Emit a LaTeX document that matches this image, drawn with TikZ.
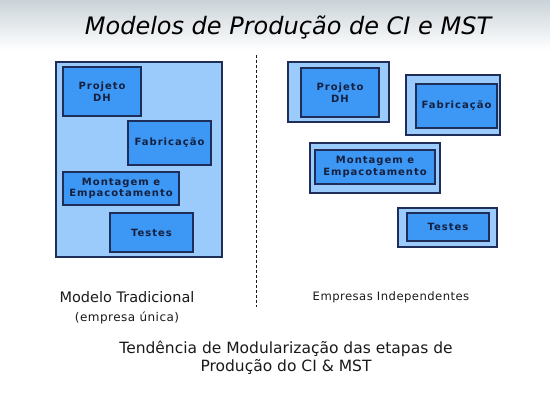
\documentclass[tikz,border=0pt]{standalone}
\usepackage{fontspec}
\setmainfont{DejaVu Sans}
\newfontfamily\boxfont[LetterSpace=10]{DejaVu Sans}
\newfontfamily\lblfont[LetterSpace=4]{DejaVu Sans}
\definecolor{outerblue}{HTML}{9ACBFA}
\definecolor{innerblue}{HTML}{3C97F5}
\definecolor{navy}{HTML}{1E2E58}
\definecolor{txt}{HTML}{1A1A1A}
\definecolor{headtop}{HTML}{CBD3D9}
\tikzset{
  outerbox/.style={draw=navy, fill=outerblue, line width=1.1pt, inner sep=0pt},
  innerbox/.style={draw=navy, fill=innerblue, line width=1.1pt, inner sep=0pt, align=center,
    font=\boxfont\bfseries\fontsize{10}{11.5}\selectfont, text=navy!70!black},
  label/.style={text=txt, inner sep=0pt, align=center},
}
\begin{document}
\begin{tikzpicture}[x=1pt,y=-1pt]
\useasboundingbox (0,0) rectangle (550,392);
\fill[white] (0,0) rectangle (550,392);
\shade[top color=headtop, bottom color=white] (0,0) rectangle (550,50);
\node[label, font=\itshape\fontsize{24}{28}\selectfont, text=black] (title) at (288,27) {Modelos de Produção de CI e MST};

% left: single company
\node[outerbox, minimum width=166pt, minimum height=195pt] (outerL) at (139,159.5) {};
\node[innerbox, minimum width=78pt, minimum height=49pt] (projL) at (102,91.5) {Projeto\\DH};
\node[innerbox, minimum width=83pt, minimum height=44pt] (fabL) at (169.5,143) {Fabricação};
\node[innerbox, minimum width=116pt, minimum height=33pt] (montL) at (121,188.5) {Montagem e\\Empacotamento};
\node[innerbox, minimum width=83pt, minimum height=39pt] (testL) at (151.5,232.5) {Testes};

% separator
\coordinate (sepA) at (256.5,55);
\coordinate (sepB) at (256.5,307);
\draw[txt, line width=1pt, dash pattern=on 3pt off 2pt] (sepA) -- (sepB);

% right: independent companies
\node[outerbox, minimum width=101pt, minimum height=60pt] (projRo) at (338.5,92) {};
\node[innerbox, minimum width=78pt, minimum height=49pt] (projR) at (340,92.5) {Projeto\\DH};
\node[outerbox, minimum width=94pt, minimum height=60pt] (fabRo) at (453,105) {};
\node[innerbox, minimum width=81pt, minimum height=44pt] (fabR) at (456.5,106) {Fabricação};
\node[outerbox, minimum width=130pt, minimum height=50pt] (montRo) at (375,168) {};
\node[innerbox, minimum width=120pt, minimum height=34pt] (montR) at (375,167) {Montagem e\\Empacotamento};
\node[outerbox, minimum width=99pt, minimum height=39pt] (testRo) at (447.5,227.5) {};
\node[innerbox, minimum width=82pt, minimum height=28pt] (testR) at (448,227) {Testes};

% labels
\node[label, font=\fontsize{14.5}{16}\selectfont] (modtrad) at (127,297) {Modelo Tradicional};
\node[label, font=\lblfont\fontsize{12}{14}\selectfont] (unica) at (127,318) {(empresa única)};
\node[label, font=\lblfont\fontsize{11.6}{14}\selectfont] (indep) at (391,297) {Empresas Independentes};
\node[label, font=\fontsize{15.5}{18}\selectfont] (tend) at (286,358) {Tendência de Modularização das etapas de\\Produção do CI \& MST};
\end{tikzpicture}
\end{document}
